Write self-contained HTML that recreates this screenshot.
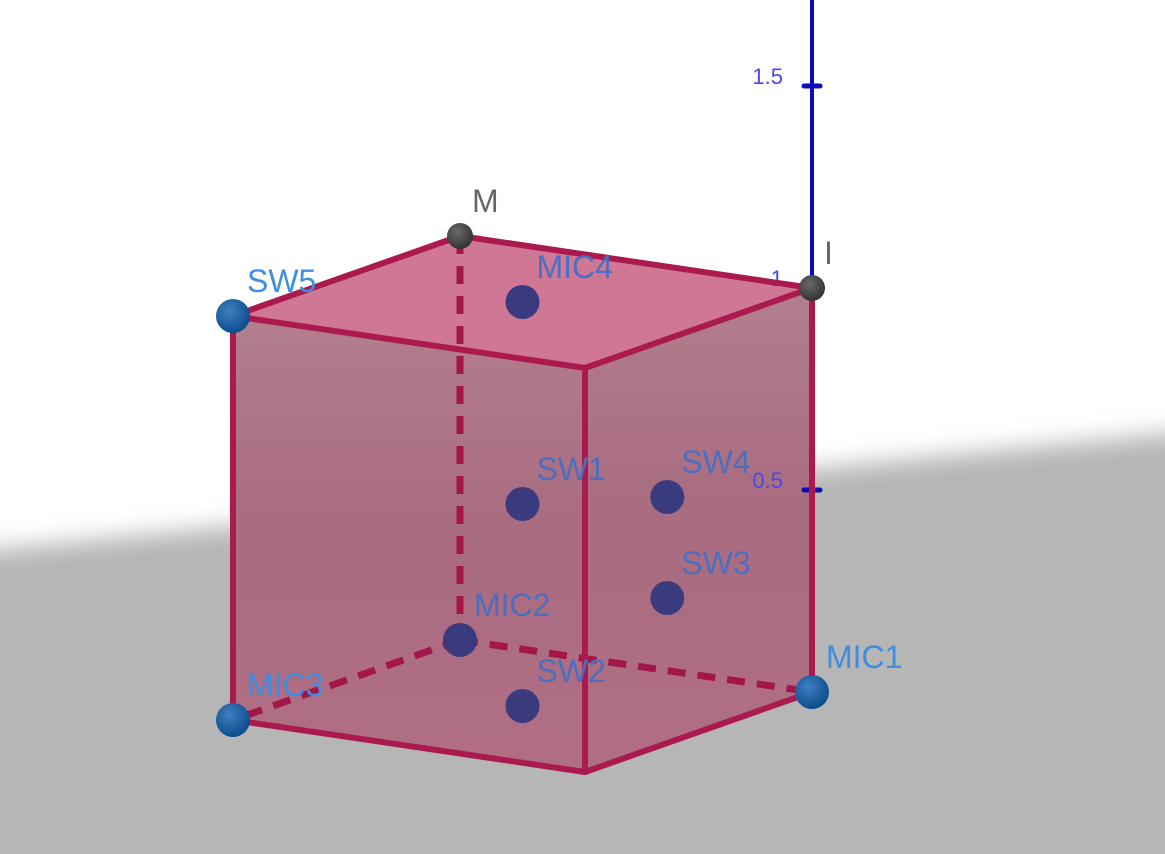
<!DOCTYPE html>
<html><head><meta charset="utf-8"><style>
html,body{margin:0;padding:0;background:#fff;overflow:hidden;width:1165px;height:854px}
svg{display:block}
text{font-family:"Liberation Sans",sans-serif}
</style></head><body>
<svg id="chart" width="1165" height="854" viewBox="0 0 1165 854">
<defs>
<filter id="blur" x="-10%" y="-20%" width="120%" height="140%"><feGaussianBlur stdDeviation="12"/></filter>
<radialGradient id="blueBall" cx="40%" cy="35%" r="65%"><stop offset="0" stop-color="#3f7fc0"/><stop offset="1" stop-color="#0d4d8e"/></radialGradient>
<radialGradient id="grayBall" cx="40%" cy="35%" r="65%"><stop offset="0" stop-color="#6a6a6a"/><stop offset="1" stop-color="#333"/></radialGradient>
<linearGradient id="sideGrad" x1="0" y1="0" x2="0" y2="1"><stop offset="0" stop-color="#b27e8e"/><stop offset="0.45" stop-color="#a96c80"/><stop offset="1" stop-color="#b06e84"/></linearGradient>
</defs>
<g id="ground">
<polygon points="-60,555 1225,428 1225,900 -60,900" fill="#b6b6b6" filter="url(#blur)"/>
</g>
<g id="scene"></g>
</svg>
<script>
// 3D scene data (unit cube); projection origin at J
const pointNames = ['MIC4','SW1','SW4','SW3','MIC2','SW2','MIC3','MIC1','SW5'];
const pointX = [0.5,0.5,0.25,0.25,0,0.5,1,0,1];
const pointY = [0.5,0.5,0.75,0.75,0,0.5,0,1,0];
const pointZ = [1,0.5,0.5,0.25,0,0,0,0,1];
const grayNames = ['M','I'];
const grayX = [0,0];
const grayY = [0,1];
const grayZ = [1,1];
const zTicks = [0.5,1,1.5];
const zTickLabels = ['0.5','1','1.5'];

const O=[460,640], VX=[-227,80], VY=[352,52], VZ=[0,-404];
function P(x,y,z){return [O[0]+x*VX[0]+y*VY[0]+z*VZ[0], O[1]+x*VX[1]+y*VY[1]+z*VZ[1]];}
const NS='http://www.w3.org/2000/svg';
const scene=document.getElementById('scene');
function mk(tag,attrs){const e=document.createElementNS(NS,tag);for(const k in attrs)e.setAttribute(k,attrs[k]);scene.appendChild(e);return e;}
function pts(a){return a.map(p=>p.join(',')).join(' ');}

const V={J:P(0,0,0),K:P(1,0,0),F:P(1,1,0),C1:P(0,1,0),M:P(0,0,1),L:P(1,0,1),FT:P(1,1,1),I:P(0,1,1)};
const faces=[
 ['front-left-face',[V.K,V.F,V.FT,V.L],'url(#sideGrad)'],
 ['front-right-face',[V.F,V.C1,V.I,V.FT],'url(#sideGrad)'],
 ['top-face',[V.L,V.FT,V.I,V.M],'#cf7794']
];
faces.forEach(f=>{
 const e=mk('polygon',{points:pts(f[1]),fill:f[2]});
 
 
});
// z axis
const ax=mk('line',{x1:V.I[0],y1:0,x2:V.I[0],y2:V.I[1],stroke:'#0a0ab8','stroke-width':4});


zTicks.forEach((t,i)=>{
 const p=P(0,1,t);
 const tk=mk('line',{x1:p[0]-8,y1:p[1],x2:p[0]+8,y2:p[1],stroke:'#0a0ab8','stroke-width':5,'stroke-linecap':'round'});
 
 
 const tx=mk('text',{x:p[0]-29,y:p[1]-2,'font-size':22,fill:'#4848e8','text-anchor':'end'});
 tx.textContent=zTickLabels[i];
 
 
});
// edges
const hidden=[[V.M,V.J],[V.J,V.K],[V.J,V.C1]];
hidden.forEach(h=>{
 const e=mk('line',{x1:h[0][0],y1:h[0][1],x2:h[1][0],y2:h[1][1],stroke:'#a3164a','stroke-width':7,'stroke-dasharray':'18,12'});
 
 
});
const edges=[[V.K,V.F],[V.F,V.C1],[V.L,V.FT],[V.FT,V.I],[V.I,V.M],[V.M,V.L],[V.K,V.L],[V.F,V.FT],[V.C1,V.I]];
edges.forEach(h=>{
 const e=mk('line',{x1:h[0][0],y1:h[0][1],x2:h[1][0],y2:h[1][1],stroke:'#ab1a4e','stroke-width':6,'stroke-linecap':'round'});
 
 
});
// points
grayNames.forEach((n,i)=>{
 const p=P(grayX[i],grayY[i],grayZ[i]);
 const c=mk('circle',{cx:p[0],cy:p[1],r:13,fill:'url(#grayBall)'});
 
 
 const t=mk('text',{x:p[0]+12,y:p[1]-24,'font-size':32,fill:'#666'});
 t.textContent=n;
 
 
});
pointNames.forEach((n,i)=>{
 const p=P(pointX[i],pointY[i],pointZ[i]);
 const c=mk('circle',{cx:p[0],cy:p[1],r:17,fill:'url(#blueBall)'});
 const inside=pointX[i]>0&&pointX[i]<1&&pointY[i]>0&&pointY[i]<1||n==='MIC2';
 if(inside){c.setAttribute('fill','#3a3a7e');}
 
 
 const t=mk('text',{x:p[0]+14,y:p[1]-24,'font-size':32,fill:inside?'#4a6fc0':'#3d8de0'});
 t.textContent=n;
 
 
});
</script>
</body></html>
